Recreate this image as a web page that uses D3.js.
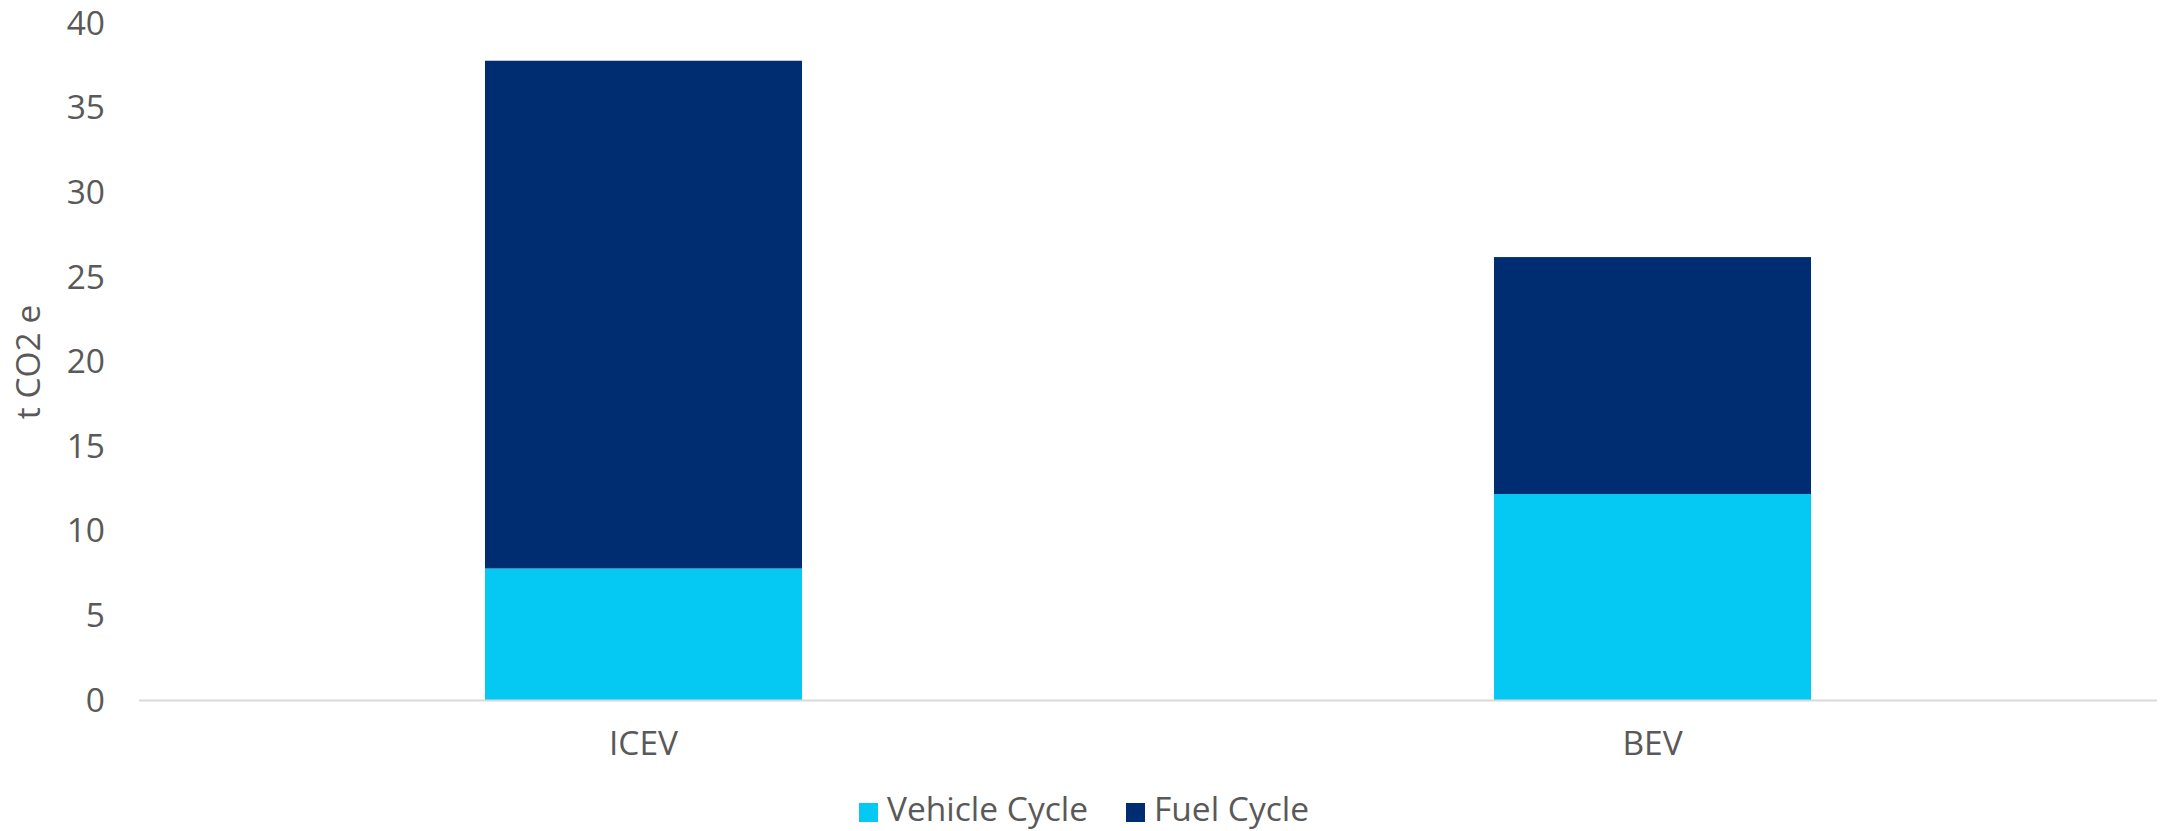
<!DOCTYPE html>
<html>
<head>
<meta charset="utf-8">
<script src="https://cdn.jsdelivr.net/npm/d3@7/dist/d3.min.js"></script>
<style>
  html, body { margin: 0; padding: 0; background: #fff; }
  svg { display: block; }
  text { font-family: "Open Sans", "Noto Sans", sans-serif; fill: #595959; }
</style>
</head>
<body>
<svg id="chart" width="2163" height="831"></svg>
<script>
const categories = ["ICEV", "BEV"];
const seriesNames = ["Vehicle Cycle", "Fuel Cycle"];
const vehicleCycle = [7.8, 12.2];
const fuelCycle = [30.0, 14.0];
const yTicks = [0, 5, 10, 15, 20, 25, 30, 35, 40];
const colors = ["#05C9F3", "#002D72"];
const yTitle = "t CO2 e";

const FS = 33.5;
const svg = d3.select("#chart");
const plotLeft = 139, plotRight = 2157, plotTop = 23.5, plotBottom = 700.5;

const x = d3.scaleBand().domain(categories).range([plotLeft, plotRight])
  .paddingInner(0.6858).paddingOuter(0.3429);
const y = d3.scaleLinear().domain([0, 40]).range([plotBottom, plotTop]);

const rows = categories.map((c, i) => ({ cat: c, "Vehicle Cycle": vehicleCycle[i], "Fuel Cycle": fuelCycle[i] }));
const stacked = d3.stack().keys(seriesNames)(rows);

svg.append("g").selectAll("g").data(stacked).join("g")
  .attr("fill", (d, i) => colors[i])
  .selectAll("rect").data(d => d).join("rect")
  .attr("x", d => x(d.data.cat))
  .attr("width", x.bandwidth())
  .attr("y", d => y(d[1]))
  .attr("height", d => y(d[0]) - y(d[1]));

// y axis labels
const yAxis = d3.axisLeft(y).tickValues(yTicks).tickSize(0).tickPadding(0);
const gy = svg.append("g").attr("transform", `translate(105,0)`).call(yAxis);
gy.select(".domain").remove();
gy.selectAll("text").attr("font-size", FS).attr("fill", "#595959")
  .style("font-family", "'Open Sans', 'Noto Sans', sans-serif");

// x axis
const xAxis = d3.axisBottom(x).tickSize(0).tickPadding(0);
const gx = svg.append("g").attr("transform", `translate(0,${plotBottom})`).call(xAxis);
gx.select(".domain").remove();
gx.selectAll("text").attr("font-size", FS).attr("fill", "#595959").attr("dy", null)
  .attr("y", 46).attr("dominant-baseline", "middle")
  .style("font-family", "'Open Sans', 'Noto Sans', sans-serif");
svg.append("line").attr("x1", plotLeft).attr("x2", plotRight).attr("y1", plotBottom).attr("y2", plotBottom)
  .attr("stroke", "#d9d9d9").attr("stroke-width", 2);

// y title
svg.append("text").attr("transform", `translate(31,${(plotTop + plotBottom) / 2}) rotate(-90)`)
  .attr("text-anchor", "middle").attr("dominant-baseline", "middle")
  .attr("font-size", FS).text(yTitle);

// legend
const legendItems = [{ name: seriesNames[0], x: 859, color: colors[0] }, { name: seriesNames[1], x: 1126, color: colors[1] }];
const lg = svg.append("g");
legendItems.forEach(it => {
  lg.append("rect").attr("x", it.x).attr("y", 803).attr("width", 19).attr("height", 19).attr("fill", it.color);
  lg.append("text").attr("x", it.x + 28).attr("y", 812).attr("dominant-baseline", "middle")
    .attr("font-size", FS).text(it.name);
});
</script>
</body>
</html>
